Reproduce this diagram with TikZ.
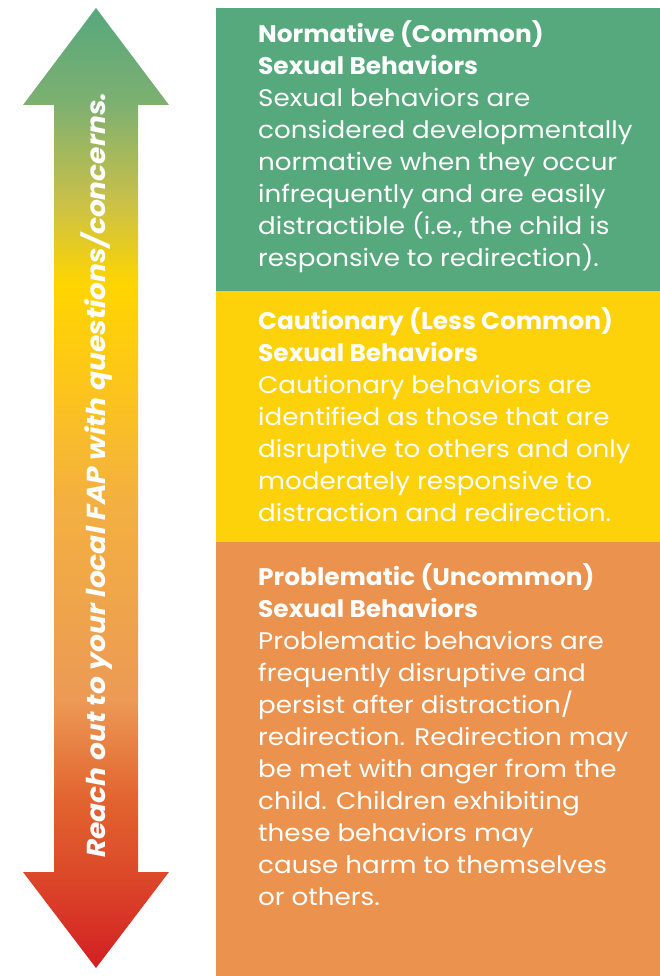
\documentclass[tikz,border=0pt]{standalone}
\usepackage{fontspec}
\setmainfont{Poppins}[FakeStretch=1.09,
  BoldFeatures={FakeStretch=1.035},
  BoldItalicFeatures={FakeStretch=1.08}]
\usetikzlibrary{positioning}

\definecolor{normgreen}{HTML}{56A97D}
\definecolor{cautyellow}{HTML}{FDD20A}
\definecolor{probcorange}{HTML}{EA924E}

\definecolor{arrred}{HTML}{D21F22}
\definecolor{arrredorange}{HTML}{DC4A2A}
\definecolor{arrdeeporange}{HTML}{E2632F}
\definecolor{arrlightorange}{HTML}{EC9A55}
\definecolor{arrorange}{HTML}{F3B040}
\definecolor{arramber}{HTML}{FDC619}
\definecolor{arryellow}{HTML}{FFD500}
\definecolor{arrolive}{HTML}{C8C04A}
\definecolor{arrsage}{HTML}{7EB070}
\definecolor{arrgreen}{HTML}{56A87D}

\pgfdeclareverticalshading{reachshade}{100bp}{%
  color(0bp)=(arrred); color(25bp)=(arrred);
  color(30bp)=(arrredorange); color(33.75bp)=(arrdeeporange);
  color(39bp)=(arrlightorange); color(49.4bp)=(arrorange);
  color(55.6bp)=(arramber); color(60.6bp)=(arryellow);
  color(65bp)=(arrolive); color(70bp)=(arrsage);
  color(75bp)=(arrgreen); color(100bp)=(arrgreen)}

\tikzset{
  band/.style={anchor=north west, minimum width=444pt, inner sep=0pt, outer sep=0pt},
  blurb/.style={anchor=north west, text=white, align=left, inner sep=0pt,
    font=\fontsize{24}{32}\selectfont},
}

\begin{document}
\begin{tikzpicture}[x=1pt,y=-1pt]
			%%%%% START %%%%%
			\useasboundingbox (0,0) rectangle (660,976);
			
			% double arrow
			\path[shading=reachshade] (96,8) -- (169,105) -- (138,105) -- (138,872) -- (169,872)
				-- (96,968) -- (23,872) -- (54,872) -- (54,105) -- (23,105) -- cycle;
			\node[rotate=90, text=white, inner sep=0pt,
				font=\bfseries\itshape\fontsize{26}{30}\selectfont] (reach) at (97,475)
				{Reach out to your local FAP with questions/concerns.};
			
			% bands
			\node[band, fill=normgreen, minimum height=283pt] (normative) at (216,8) {};
			\node[band, fill=cautyellow, minimum height=251pt] (cautionary) at (216,291) {};
			\node[band, fill=probcorange, minimum height=434pt] (problematic) at (216,542) {};
			
			% texts
			\node[blurb] (normtext) at ([xshift=42pt,yshift=-12pt]normative.north west)
				{\textbf{Normative (Common)}\\\textbf{Sexual Behaviors}\\Sexual behaviors are\\
				considered developmentally\\normative when they occur\\infrequently and are easily\\
				distractible (i.e., the child is\\responsive to redirection).};
			\node[blurb] (cauttext) at ([xshift=42pt,yshift=-16pt]cautionary.north west)
				{\textbf{Cautionary (Less Common)}\\\textbf{Sexual Behaviors}\\Cautionary behaviors are\\
				identified as those that are\\disruptive to others and only\\moderately responsive to\\
				distraction and redirection.};
			\node[blurb] (probtext) at ([xshift=42pt,yshift=-21pt]problematic.north west)
				{\textbf{Problematic (Uncommon)}\\\textbf{Sexual Behaviors}\\Problematic behaviors are\\
				frequently disruptive and\\persist after distraction/\\redirection. Redirection may\\
				be met with anger from the\\child. Children exhibiting\\these behaviors may\\
				cause harm to themselves\\or others.};
			
			%%%%% END %%%%%
\end{tikzpicture}
\end{document}
